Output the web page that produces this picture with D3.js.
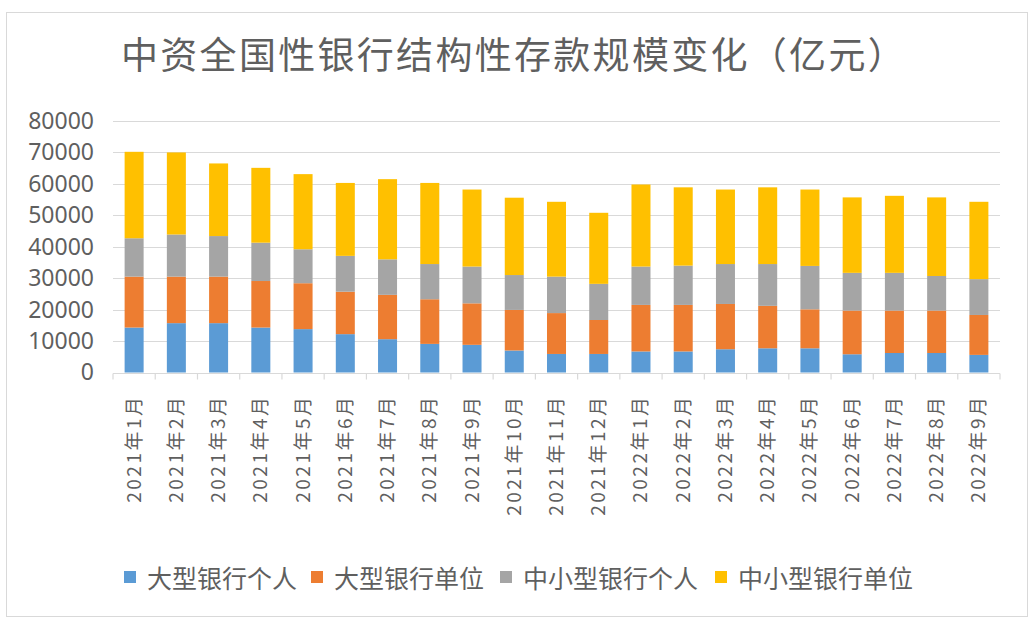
<!DOCTYPE html>
<html>
<head>
<meta charset="utf-8">
<script src="https://cdn.jsdelivr.net/npm/d3@7"></script>
<style>
  body { margin: 0; background: #fff; }
  #chart { width: 1032px; height: 619px; }
  text { font-family: "Noto Sans CJK SC", "Noto Sans", sans-serif; }
</style>
</head>
<body>
<div id="chart"></div>
<script>
var months = ["2021年1月", "2021年2月", "2021年3月", "2021年4月", "2021年5月", "2021年6月",
    "2021年7月", "2021年8月", "2021年9月", "2021年10月", "2021年11月", "2021年12月",
    "2022年1月", "2022年2月", "2022年3月", "2022年4月", "2022年5月", "2022年6月",
    "2022年7月", "2022年8月", "2022年9月"];

var seriesNames = ["大型银行个人", "大型银行单位", "中小型银行个人", "中小型银行单位"];

var bigPersonal = [14300, 15700, 15700, 14300, 13800, 12200, 10600, 9100, 8800, 7000, 5900,
    5900, 6700, 6700, 7400, 7700, 7700, 5800, 6200, 6200, 5600];
var bigCorporate = [16200, 14800, 14800, 14800, 14600, 13500, 14100, 14200, 13200, 12900, 13000,
    10800, 14800, 14800, 14400, 13500, 12400, 13900, 13500, 13500, 12700];
var smallPersonal = [12200, 13400, 12900, 12200, 10800, 11400, 11300, 11200, 11700, 11100, 11600,
    11500, 12200, 12500, 12700, 13300, 13800, 12000, 12000, 11000, 11400];
var smallCorporate = [27500, 26100, 23100, 23800, 23900, 23200, 25500, 25800, 24500, 24600, 23800,
    22600, 26100, 24900, 23700, 24400, 24300, 24000, 24500, 25000, 24600];

var yTicks = [0, 10000, 20000, 30000, 40000, 50000, 60000, 70000, 80000];
var colors = ["#5b9bd5", "#ed7d31", "#a5a5a5", "#ffc000"];

var width = 1032, height = 619;
var margin = {top: 121, right: 32, bottom: 246.5, left: 113};

var svg = d3.select("#chart").append("svg")
    .attr("width", width)
    .attr("height", height);

// outer frame
svg.append("rect")
    .attr("x", 6.5).attr("y", 12.5)
    .attr("width", 1021).attr("height", 604)
    .attr("fill", "#fff")
    .attr("stroke", "#d9d9d9");

// title
svg.append("text")
    .attr("x", 514)
    .attr("y", 69)
    .attr("text-anchor", "middle")
    .style("font-size", "37px")
    .style("letter-spacing", "2.3px")
    .attr("fill", "#5f5f5f")
    .text("中资全国性银行结构性存款规模变化（亿元）");

var rows = months.map(function (m, i) {
    return {
        month: m,
        "大型银行个人": bigPersonal[i],
        "大型银行单位": bigCorporate[i],
        "中小型银行个人": smallPersonal[i],
        "中小型银行单位": smallCorporate[i]
    };
});

var stacked = d3.stack().keys(seriesNames)(rows);

var x = d3.scaleBand()
    .domain(months)
    .range([margin.left, width - margin.right])
    .paddingInner(0.55)
    .paddingOuter(0.275);

var y = d3.scaleLinear()
    .domain([0, 80000])
    .range([height - margin.bottom, margin.top]);

// gridlines
svg.append("g")
    .selectAll("line")
    .data(yTicks.slice(1))
    .join("line")
    .attr("x1", margin.left)
    .attr("x2", width - margin.right)
    .attr("y1", function (d) { return Math.round(y(d)) + 0.5; })
    .attr("y2", function (d) { return Math.round(y(d)) + 0.5; })
    .attr("stroke", "#d9d9d9")
    .attr("stroke-width", 1.2);

// y axis labels
var yAxis = d3.axisLeft(y).tickValues(yTicks).tickFormat(d3.format("d")).tickSize(0).tickPadding(19);
var gy = svg.append("g")
    .attr("transform", "translate(" + margin.left + ",0)")
    .call(yAxis);
gy.select(".domain").remove();
gy.selectAll("text")
    .style("font-size", "23px")
    .style("font-family", "\"Noto Sans\", sans-serif")
    .attr("fill", "#5f5f5f");

// bars
svg.append("g")
    .selectAll("g")
    .data(stacked)
    .join("g")
    .attr("fill", function (d, i) { return colors[i]; })
    .selectAll("rect")
    .data(function (d) { return d; })
    .join("rect")
    .attr("x", function (d) { return x(d.data.month); })
    .attr("width", x.bandwidth())
    .attr("y", function (d) { return y(d[1]); })
    .attr("height", function (d) { return y(d[0]) - y(d[1]); });

// x axis line with category boundary ticks
var axisY = Math.round(y(0)) + 0.5;
var step = x.step();
var bounds = months.map(function (m) { return x(m) - (step - x.bandwidth()) / 2; });
bounds.push(width - margin.right);
svg.append("line")
    .attr("x1", margin.left).attr("x2", width - margin.right)
    .attr("y1", axisY).attr("y2", axisY)
    .attr("stroke", "#d9d9d9")
    .attr("stroke-width", 1.2);
svg.append("g")
    .selectAll("line")
    .data(bounds)
    .join("line")
    .attr("x1", function (d) { return d; })
    .attr("x2", function (d) { return d; })
    .attr("y1", axisY)
    .attr("y2", axisY + 6)
    .attr("stroke", "#d9d9d9")
    .attr("stroke-width", 1.2);

// x labels, rotated
svg.append("g")
    .selectAll("text")
    .data(months)
    .join("text")
    .attr("transform", function (d) {
        return "translate(" + (x(d) + x.bandwidth() / 2 - 2) + "," + (axisY + 21) + ") rotate(-90)";
    })
    .attr("text-anchor", "end")
    .attr("dominant-baseline", "central")
    .style("font-size", "19px")
    .style("letter-spacing", "2.5px")
    .attr("fill", "#5f5f5f")
    .text(function (d) { return d; });

// legend
var legendX = [124, 311, 500, 715];
var legend = svg.append("g")
    .selectAll("g")
    .data(seriesNames)
    .join("g")
    .attr("transform", function (d, i) { return "translate(" + legendX[i] + ",577)"; });
legend.append("rect")
    .attr("x", 0).attr("y", -6)
    .attr("width", 12).attr("height", 12)
    .attr("fill", function (d, i) { return colors[i]; });
legend.append("text")
    .attr("x", 23)
    .attr("dominant-baseline", "central")
    .style("font-size", "25px")
    .attr("fill", "#5f5f5f")
    .text(function (d) { return d; });
</script>
</body>
</html>
